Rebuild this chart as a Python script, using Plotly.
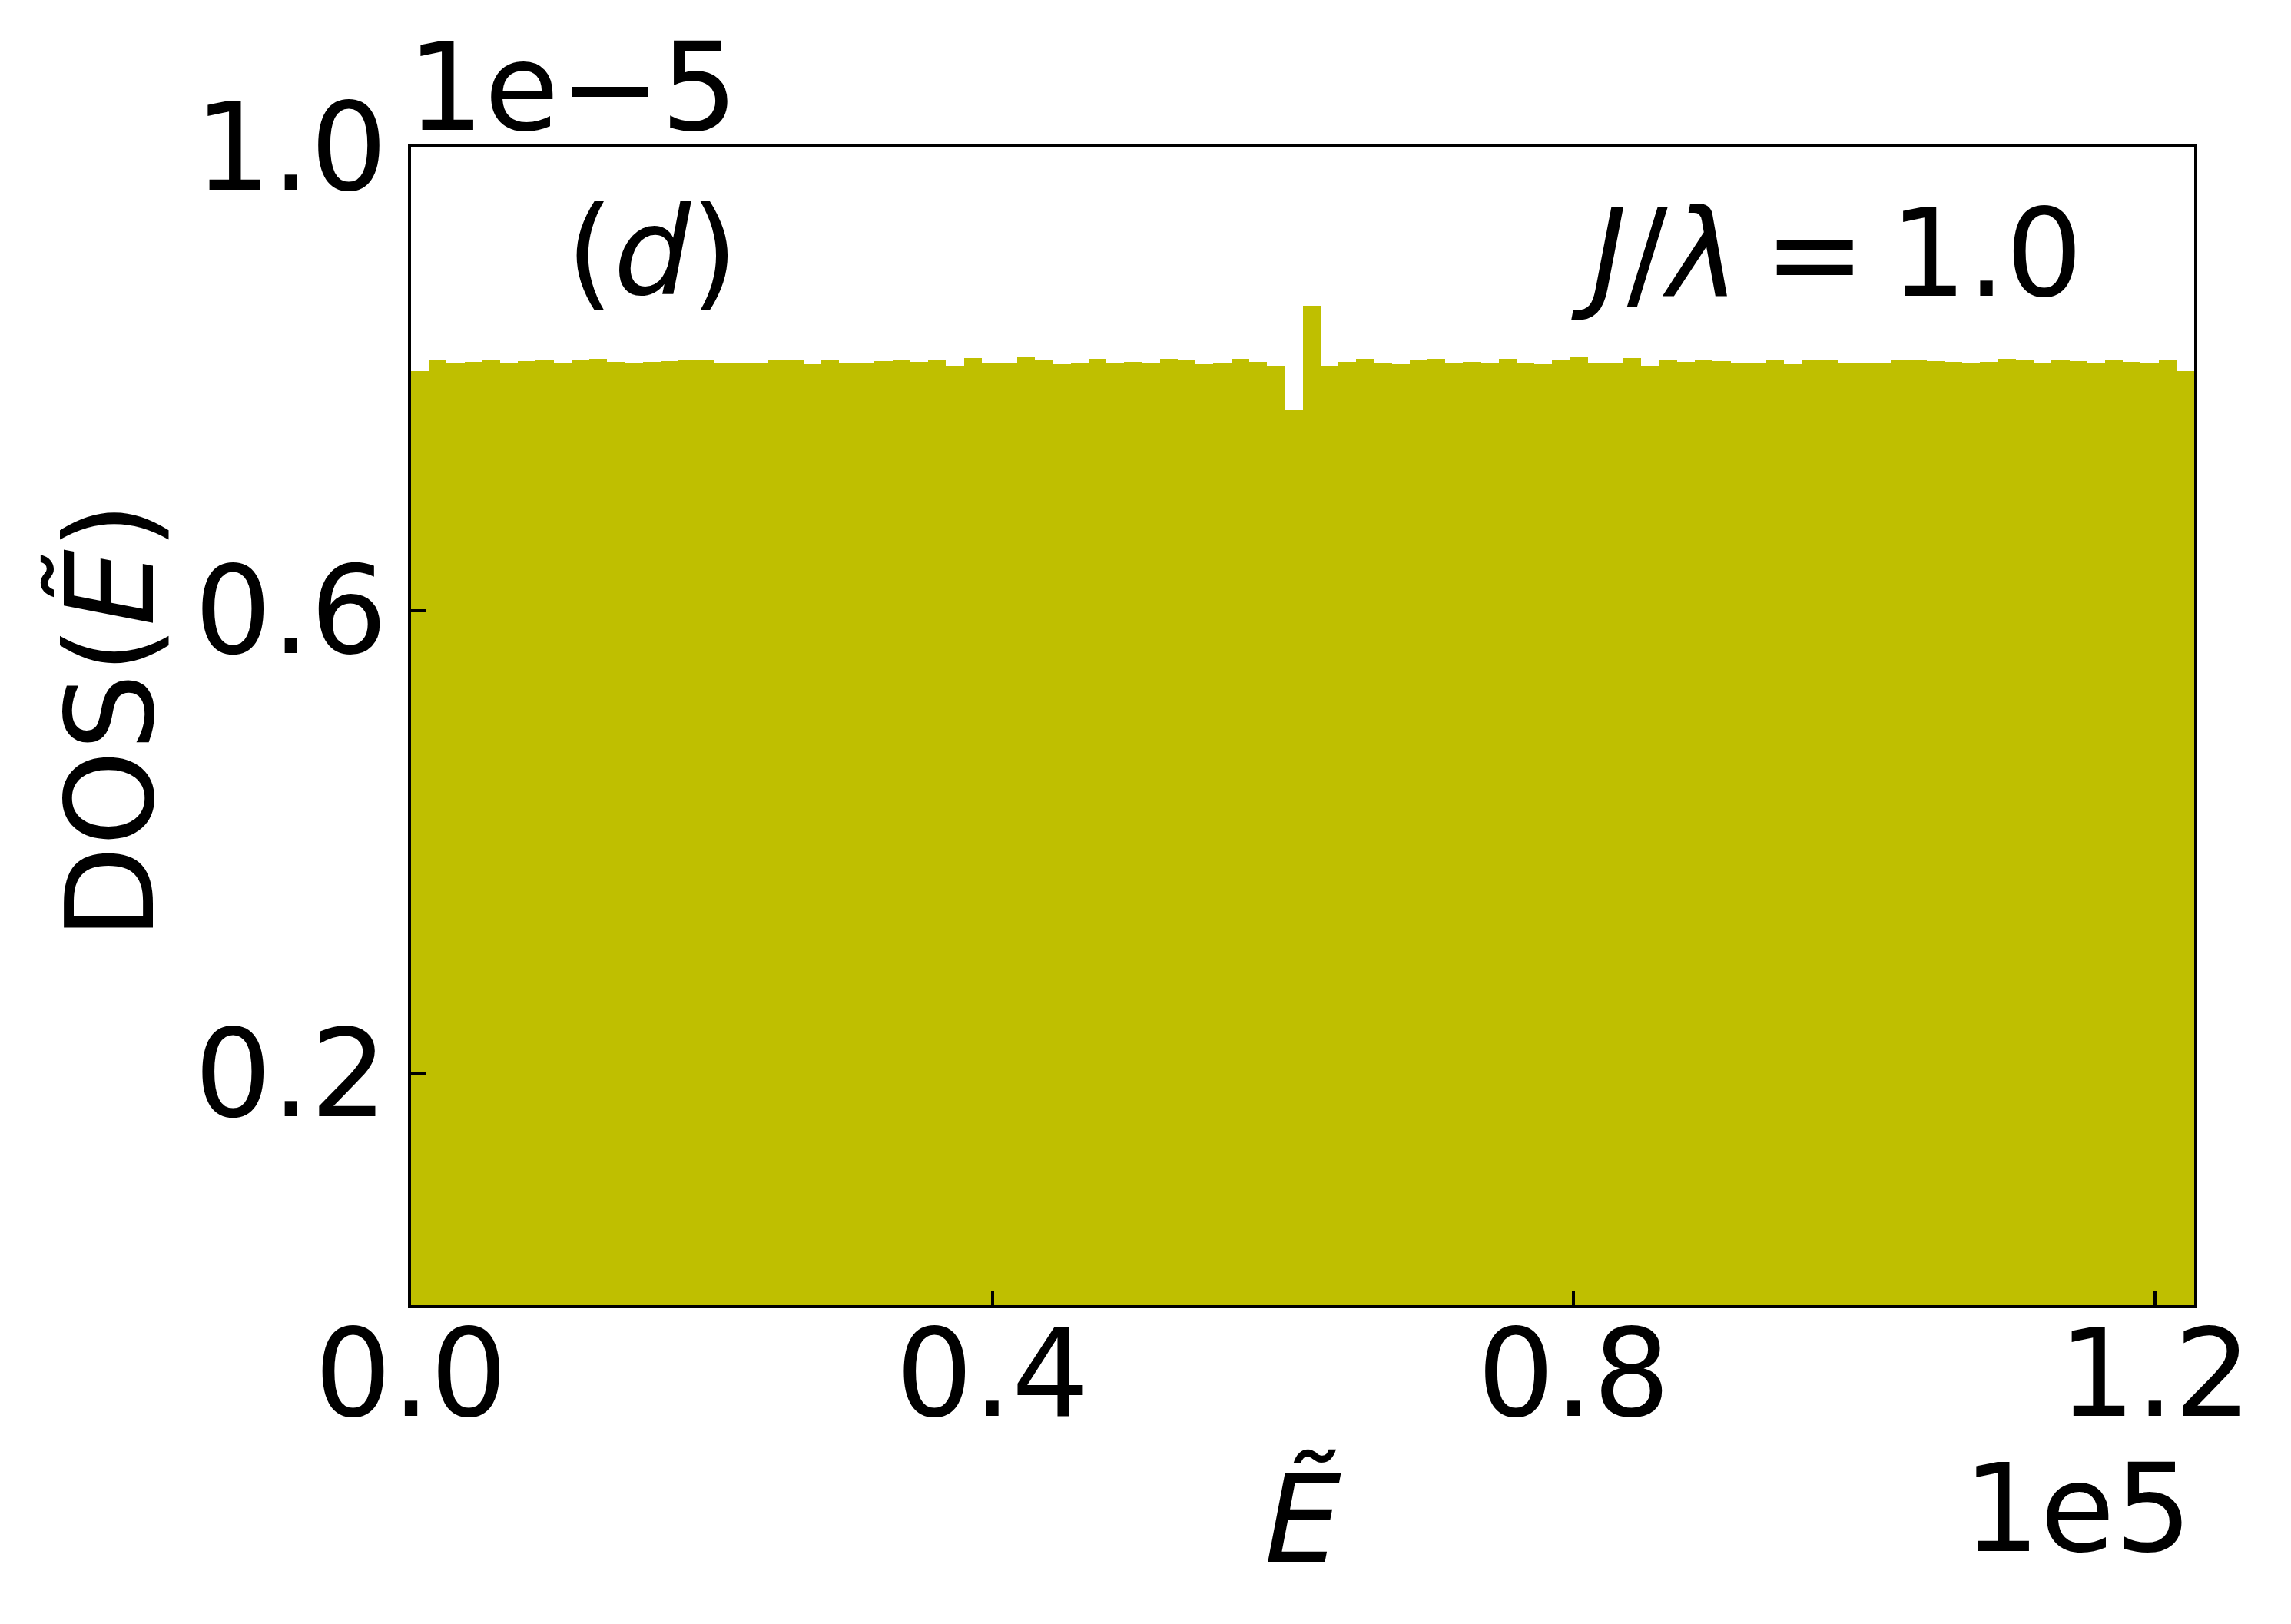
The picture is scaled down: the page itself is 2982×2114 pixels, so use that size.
import numpy as np
import plotly.graph_objects as go

# ---- data ----
e_min = 0.0
e_max = 1.227e5          # histogram range of E~
dos_values = [  # density of states per bin (x 1e-5)
    0.8070, 0.8160, 0.8134, 0.8147, 0.8160, 0.8134, 0.8153, 0.8160, 0.8140, 0.8160,
    0.8173, 0.8147, 0.8134, 0.8147, 0.8153, 0.8160, 0.8160, 0.8140, 0.8134, 0.8134,
    0.8167, 0.8160, 0.8127, 0.8167, 0.8140, 0.8140, 0.8153, 0.8167, 0.8147, 0.8167,
    0.8107, 0.8180, 0.8140, 0.8140, 0.8186, 0.8167, 0.8127, 0.8134, 0.8173, 0.8134,
    0.8147, 0.8140, 0.8173, 0.8167, 0.8127, 0.8134, 0.8173, 0.8147, 0.8107, 0.7730,
    0.8630, 0.8107, 0.8147, 0.8173, 0.8134, 0.8127, 0.8167, 0.8173, 0.8140, 0.8147,
    0.8134, 0.8173, 0.8134, 0.8127, 0.8167, 0.8186, 0.8140, 0.8140, 0.8180, 0.8107,
    0.8167, 0.8147, 0.8167, 0.8153, 0.8140, 0.8140, 0.8167, 0.8127, 0.8160, 0.8167,
    0.8134, 0.8134, 0.8140, 0.8160, 0.8160, 0.8153, 0.8147, 0.8134, 0.8147, 0.8173,
    0.8160, 0.8140, 0.8160, 0.8153, 0.8134, 0.8160, 0.8147, 0.8134, 0.8160, 0.8070,
]
dos_scale = 1e-5
x_tick_vals = [0.0, 0.4e5, 0.8e5, 1.2e5]
x_tick_text = ["0.0", "0.4", "0.8", "1.2"]
y_tick_vals = [0.2e-5, 0.6e-5, 1.0e-5]
y_tick_text = ["0.2", "0.6", "1.0"]

# ---- derived ----
n_bins = len(dos_values)
edges = np.linspace(e_min, e_max, n_bins + 1)
centers = 0.5 * (edges[:-1] + edges[1:])
widths = np.diff(edges)
dos = np.array(dos_values) * dos_scale

W, H = 2982, 2114
L, R, T, B = 527, 2848, 184, 1691
FONT = "DejaVu Sans"
FS = 158

fig = go.Figure()
fig.add_trace(go.Bar(
    x=centers, y=dos, width=widths,
    marker=dict(color="#bfbf00", line=dict(width=0)),
    showlegend=False,
))

axis_common = dict(
    showline=True, linecolor="black", linewidth=4, mirror=True,
    ticks="inside", ticklen=19, tickwidth=4, tickcolor="black",
    showgrid=False, zeroline=False,
    tickfont=dict(family=FONT, size=FS, color="black"),
)
fig.update_xaxes(range=[e_min, e_max], tickvals=x_tick_vals, ticktext=x_tick_text,
                 ticklabelstandoff=-50, **axis_common)
fig.update_yaxes(range=[0, 1.0e-5], tickvals=y_tick_vals, ticktext=y_tick_text,
                 ticklabelstandoff=-5, **axis_common)

def px_x(p):
    return (p - L) / (R - L)

def px_y(p):
    return (B - p) / (B - T)

ann_font = dict(family=FONT, size=FS, color="black")
annotations = [
    dict(text="1e\u22125", x=px_x(520), y=px_y(106), xanchor="left", yanchor="middle"),
    dict(text="1e5", x=px_x(2847), y=px_y(1956), xanchor="right", yanchor="middle"),
    dict(text="<i>\u1EBC</i>", x=px_x(1688), y=px_y(1970), xanchor="center", yanchor="middle"),
    dict(text="DOS(<i>\u1EBC</i>)", x=px_x(136), y=px_y(930), xanchor="center",
         yanchor="middle", textangle=-90),
    dict(text="(<i>d</i>)", x=px_x(841), y=px_y(320), xanchor="center", yanchor="middle"),
    dict(text="<i>J</i>/<i>\u03bb</i>\u2009=\u20091.0", x=px_x(2370), y=px_y(322),
         xanchor="center", yanchor="middle"),
]
for a in annotations:
    a.update(xref="paper", yref="paper", showarrow=False, font=ann_font)

fig.update_layout(
    width=W, height=H,
    margin=dict(l=L, r=W - R, t=T, b=H - B, pad=0),
    paper_bgcolor="white", plot_bgcolor="white",
    bargap=0,
    annotations=annotations,
    font=dict(family=FONT, color="black"),
)

fig.write_html("out.html")
